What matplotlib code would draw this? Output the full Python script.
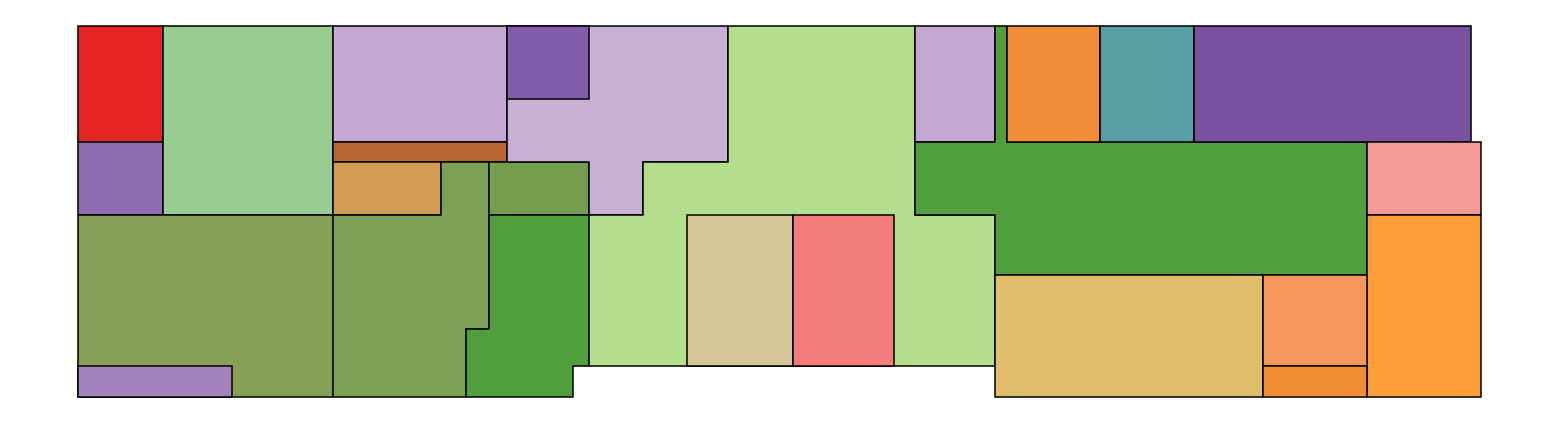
import matplotlib
matplotlib.use("Agg")
import matplotlib.pyplot as plt
from matplotlib.patches import Polygon

# --- Floor plan data (x, y in plan units, y grows downward) ---

room_names = [
    'red', 'purple_l', 'green_l', 'olive_l', 'lilac_strip',
    'lilac_1', 'brown_strip', 'tan_orange', 'olive_2', 'olive_3', 'green_dark_mid',
    'lilac_2', 'purple_small', 'green_light_big', 'tan', 'pink',
    'lilac_3', 'green_dark_right', 'orange', 'teal', 'purple_r',
    'pink_r', 'orange_r', 'yellow', 'salmon', 'orange_small',
]

room_colors = [
    '#e42522', '#906bb1', '#98cd91', '#859f58', '#a283bc',
    '#c4a8d1', '#b86632', '#d09b53', '#7da056', '#769e50', '#509e3c',
    '#c8afd6', '#825ca9', '#b2de8d', '#d4c698', '#f47d7c',
    '#c4a8d1', '#509e3c', '#f38d37', '#589fa6', '#7a50a1',
    '#f59b97', '#fd9e39', '#e0bd6b', '#f6965c', '#f28d35',
]

room_shapes = [
    [(78, 26), (163, 26), (163, 142), (78, 142)],
    [(78, 142), (163, 142), (163, 215), (78, 215)],
    [(163, 26), (333, 26), (333, 215), (163, 215)],
    [(78, 215), (333, 215), (333, 397), (78, 397)],
    [(78, 366), (232, 366), (232, 397), (78, 397)],
    [(333, 26), (507, 26), (507, 142), (333, 142)],
    [(333, 142), (507, 142), (507, 162), (333, 162)],
    [(333, 162), (441, 162), (441, 215), (333, 215)],
    [(441, 162), (489, 162), (489, 329), (466, 329), (466, 397),
     (333, 397), (333, 215), (441, 215)],
    [(489, 162), (589, 162), (589, 215), (489, 215)],
    [(489, 215), (589, 215), (589, 366), (573, 366), (573, 397),
     (466, 397), (466, 329), (489, 329)],
    [(507, 26), (728, 26), (728, 162), (643, 162), (643, 215),
     (589, 215), (589, 162), (507, 162)],
    [(507, 26), (589, 26), (589, 99), (507, 99)],
    [(728, 26), (915, 26), (915, 215), (995, 215), (995, 366),
     (589, 366), (589, 215), (643, 215), (643, 162), (728, 162)],
    [(687, 215), (793, 215), (793, 366), (687, 366)],
    [(793, 215), (894, 215), (894, 366), (793, 366)],
    [(915, 26), (995, 26), (995, 142), (915, 142)],
    [(995, 26), (1007, 26), (1007, 142), (1367, 142), (1367, 275),
     (995, 275), (995, 215), (915, 215), (915, 142), (995, 142)],
    [(1007, 26), (1100, 26), (1100, 142), (1007, 142)],
    [(1100, 26), (1194, 26), (1194, 142), (1100, 142)],
    [(1194, 26), (1471, 26), (1471, 142), (1194, 142)],
    [(1367, 142), (1481, 142), (1481, 215), (1367, 215)],
    [(1367, 215), (1481, 215), (1481, 397), (1367, 397)],
    [(995, 275), (1263, 275), (1263, 397), (995, 397)],
    [(1263, 275), (1367, 275), (1367, 366), (1263, 366)],
    [(1263, 366), (1367, 366), (1367, 397), (1263, 397)],
]

# --- Plot ---
fig = plt.figure(figsize=(15.57, 4.28), dpi=100)
ax = fig.add_axes([0, 0, 1, 1])

for name, color, shape in zip(room_names, room_colors, room_shapes):
    ax.add_patch(Polygon(shape, closed=True, facecolor=color,
                         edgecolor='black', linewidth=1.1, label=name))

ax.set_xlim(0, 1557)
ax.set_ylim(428, 0)
ax.axis('off')

fig.savefig('out.png', dpi=100)
